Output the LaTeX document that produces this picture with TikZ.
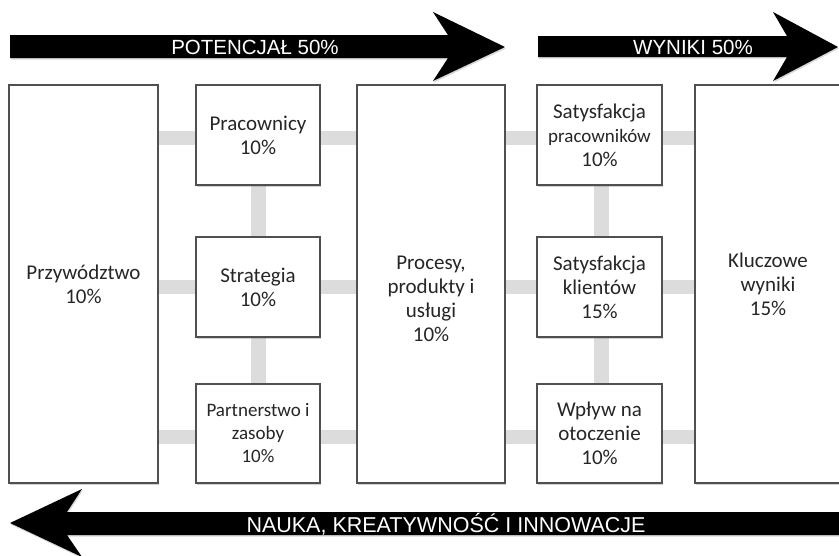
\documentclass[tikz,border=0pt]{standalone}
\usepackage{fontspec}
\setmainfont{Carlito}
\newfontfamily\arrowfont{Liberation Sans}
\usetikzlibrary{shadows}
\pgfdeclarelayer{bg}
\pgfsetlayers{bg,main}
\definecolor{boxline}{HTML}{505050}
\definecolor{textgray}{HTML}{262626}
\definecolor{connfill}{HTML}{DCDCDC}
\begin{document}
\begin{tikzpicture}[x=1pt,y=-1pt,
  box/.style={draw=boxline, line width=1.1pt, fill=white, inner sep=0pt, align=center,
    font=\fontsize{21}{24}\selectfont, text=textgray,
    drop shadow={shadow xshift=0.8pt, shadow yshift=-1.6pt, opacity=0.35}},
  smalltxt/.style={font=\fontsize{19}{23}\selectfont},
  txt/.style={inner sep=0pt, align=center, font=\fontsize{21}{24}\selectfont, text=textgray},
  conn/.style={draw=connfill, line width=14pt},
  bigarrow/.style={fill=black, drop shadow={shadow xshift=0.8pt, shadow yshift=-1.6pt, opacity=0.3}},
  arrowtxt/.style={inner sep=0pt, text=white, font=\arrowfont\fontsize{20.5}{24}\selectfont}
]
\begin{pgfonlayer}{bg}
\fill[white] (0,0) rectangle (839,555);
\end{pgfonlayer}
\useasboundingbox (0,0) rectangle (839,555);

% arrows
\fill[bigarrow] (10,35) -- (448,35) -- (433,12) -- (505,47) -- (433,81) -- (448,58) -- (10,58) -- cycle;
\fill[bigarrow] (538,36) -- (787,36) -- (773,12) -- (838,47) -- (773,81) -- (787,57) -- (538,57) -- cycle;
\fill[bigarrow] (850,512) -- (67,512) -- (82,489) -- (10,523) -- (82,557) -- (67,535) -- (850,535) -- cycle;
\node[arrowtxt] (pot) at (255,47) {POTENCJAŁ 50\%};
\node[arrowtxt] (wyn) at (693,47) {WYNIKI 50\%};
\node[arrowtxt, font=\arrowfont\fontsize{21.5}{24}\selectfont] (nau) at (446,524) {NAUKA, KREATYWNOŚĆ I INNOWACJE};

% boxes
\node[box, minimum width=149pt, minimum height=398pt] (przy) at (83.5,284) {Przywództwo\\10\%};
\node[box, minimum width=124pt, minimum height=100pt] (prac) at (258,135) {Pracownicy\\10\%};
\node[box, minimum width=124pt, minimum height=100pt] (strat) at (258,287) {Strategia\\10\%};
\node[box, smalltxt, minimum width=124pt, minimum height=99pt] (part) at (258,433.5) {Partnerstwo i\\zasoby\\10\%};
\node[box, minimum width=148pt, minimum height=398pt] (proc) at (431,284) {};
\node[txt] (proctxt) at ([yshift=-15pt]proc.center) {Procesy,\\produkty i\\usługi\\10\%};
\node[box, minimum width=125pt, minimum height=100pt] (sp) at (599.5,135) {Satysfakcja\\{\fontsize{19}{23}\selectfont pracowników}\\10\%};
\node[box, minimum width=125pt, minimum height=100pt] (sk) at (599.5,287) {Satysfakcja\\klientów\\15\%};
\node[box, minimum width=125pt, minimum height=99pt] (wp) at (599.5,433.5) {Wpływ na\\otoczenie\\10\%};
\node[box, minimum width=146pt, minimum height=398pt] (klu) at (768,284) {Kluczowe\\wyniki\\15\%};

% connectors
\coordinate (r1) at ([yshift=-3pt]prac.center);
\coordinate (r2) at (strat.center);
\coordinate (r3) at ([yshift=-3pt]part.center);
\begin{pgfonlayer}{bg}
\draw[conn] (r1 -| przy.east) -- (r1 -| klu.west);
\draw[conn] (r2 -| przy.east) -- (r2 -| klu.west);
\draw[conn] (r3 -| przy.east) -- (r3 -| klu.west);
\draw[conn, line width=15pt] (prac.south) -- (part.north);
\draw[conn, line width=15pt] ([xshift=2pt]sp.south) -- ([xshift=2pt]wp.north);
\end{pgfonlayer}
\end{tikzpicture}
\end{document}
